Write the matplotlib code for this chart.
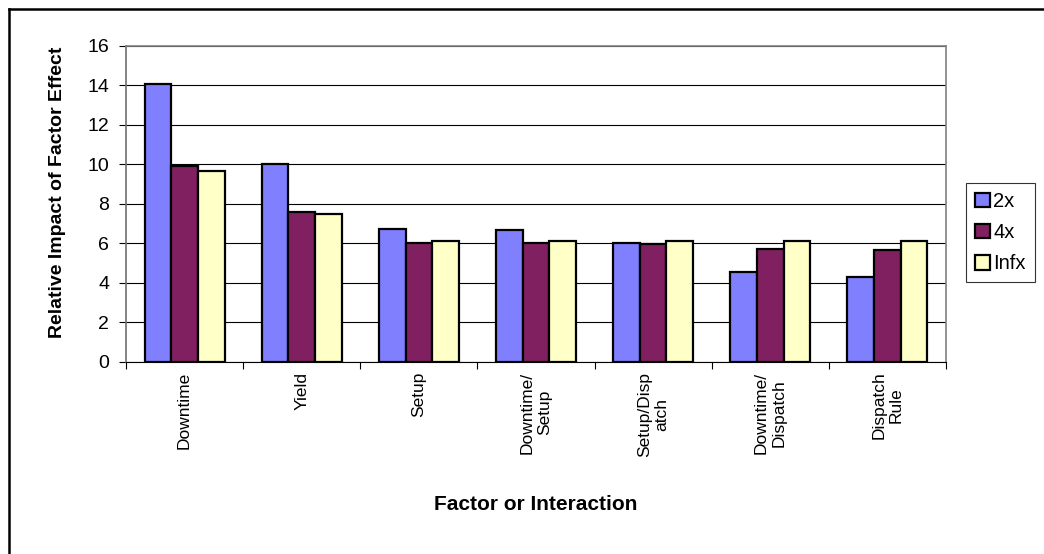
import matplotlib
matplotlib.use("Agg")
import matplotlib.pyplot as plt
import numpy as np
from matplotlib.lines import Line2D

plt.rcParams["font.family"] = ["Liberation Sans", "DejaVu Sans"]

factors = ["Downtime", "Yield", "Setup", "Downtime/\nSetup", "Setup/Disp\natch",
           "Downtime/\nDispatch", "Dispatch\nRule"]
series_names = ["2x", "4x", "Infx"]
impact_2x = [14.05, 10.0, 6.73, 6.68, 6.03, 4.55, 4.3]
impact_4x = [9.9, 7.57, 6.0, 6.0, 5.97, 5.73, 5.68]
impact_infx = [9.64, 7.5, 6.12, 6.12, 6.12, 6.12, 6.12]
colors = ["#8080FF", "#802060", "#FFFFC8"]

W, H = 1044, 554
fig = plt.figure(figsize=(W / 100, H / 100), dpi=100)
ax = fig.add_axes([126 / W, 1 - 362 / H, (946 - 126) / W, (362 - 45.7) / H])

x = np.arange(len(factors))
width = 0.228
for i, (vals, name) in enumerate(zip([impact_2x, impact_4x, impact_infx], series_names)):
    ax.bar(x + (i - 1) * width, vals, width, color=colors[i], edgecolor="black",
           linewidth=1.6, label=name, zorder=3)

ax.set_xlim(-0.5, len(factors) - 0.5)
ax.set_ylim(0, 16)
ax.set_yticks(range(0, 17, 2))
ax.yaxis.grid(True, color="black", linewidth=0.8, zorder=0)

# category labels at centres, tick marks at category boundaries
ax.set_xticks(x)
ax.set_xticklabels(factors, rotation=90, ha="center", va="top", multialignment="center",
                   fontsize=12.5)
ax.set_xticks(np.arange(-0.5, len(factors), 1.0), minor=True)
ax.tick_params(axis="x", which="major", length=0, pad=7)
ax.tick_params(axis="x", which="minor", length=5, width=0.8, direction="out")
ax.tick_params(axis="y", length=5, width=0.8, direction="out", labelsize=14, pad=7)

for side in ["top", "right"]:
    ax.spines[side].set_color("#808080")
    ax.spines[side].set_linewidth(1.2)
ax.spines["left"].set_color("#707070")
ax.spines["left"].set_linewidth(1.2)
ax.spines["bottom"].set_color("black")
ax.spines["bottom"].set_linewidth(0.8)

fig.text(58 / W, 1 - 192 / H, "Relative Impact of Factor Effect", rotation=90,
         ha="center", va="center", fontsize=14, fontweight="bold")
fig.text(536 / W, 1 - 505 / H, "Factor or Interaction", ha="center", va="center",
         fontsize=15, fontweight="bold")

leg = ax.legend(loc="upper left", bbox_to_anchor=(966 / W, 1 - 183 / H),
                bbox_transform=fig.transFigure, fontsize=14.5, frameon=True,
                fancybox=False, borderpad=0.45, handlelength=0.75, handleheight=0.75,
                handletextpad=0.15, labelspacing=0.6, borderaxespad=0)
leg.get_frame().set_edgecolor("black")
leg.get_frame().set_linewidth(0.8)

# outer chart border
fig.add_artist(Line2D([8.5 / W, 1], [1 - 9 / H, 1 - 9 / H], color="black", linewidth=1.8))
fig.add_artist(Line2D([8.5 / W, 8.5 / W], [0, 1 - 9 / H], color="black", linewidth=1.8))

fig.savefig("out.png", dpi=100)
